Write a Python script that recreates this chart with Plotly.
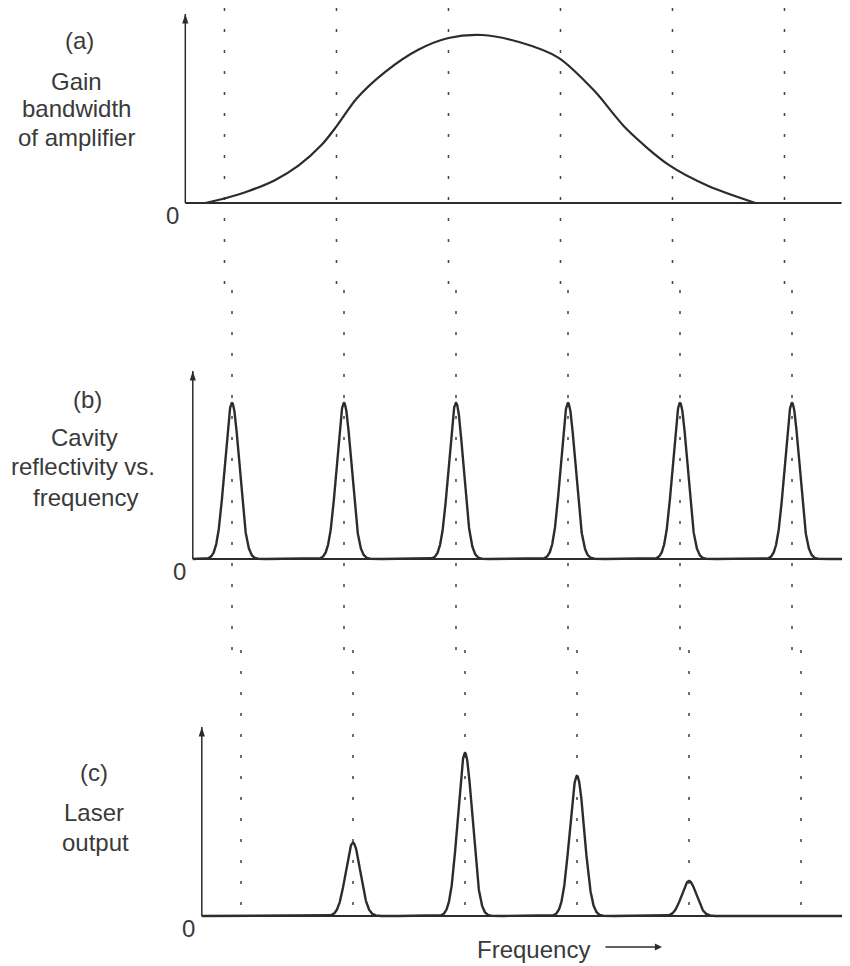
import numpy as np
import plotly.graph_objects as go

# page is shown in an 850x966 window; the html body has an 8px margin
PAGE_W, PAGE_H, BODY_MARGIN = 850, 966, 8
W, H = PAGE_W - BODY_MARGIN, PAGE_H - BODY_MARGIN

# ---------------- data ----------------
# frequency is expressed in units of the cavity mode spacing
mode_index = [0, 1, 2, 3, 4, 5]

gain_freq = [-0.17, 0.0, 0.21, 0.45, 0.66, 0.87, 1.0, 1.18, 1.43, 1.73, 2.0,
             2.30, 2.63, 2.98, 3.30, 3.59, 3.97, 4.32, 4.74]
gain_value = [0.0, 0.027, 0.070, 0.136, 0.222, 0.348, 0.456, 0.622, 0.778, 0.912, 0.982,
              1.0, 0.958, 0.865, 0.669, 0.44, 0.225, 0.101, 0.0]

reflectivity_peak = [1.0, 1.0, 1.0, 1.0, 1.0, 1.0]

laser_modes = [1, 2, 3, 4]
laser_output = [0.45, 1.0, 0.86, 0.215]

mode_sigma = 0.065  # width (std. dev.) of each resonance, in mode spacings

panel_tags = ["(a)", "(b)", "(c)"]
panel_titles = [["Gain", "bandwidth", "of amplifier"],
                ["Cavity", "reflectivity vs.", "frequency"],
                ["Laser", "output"]]
zero_label = "0"
x_title = "Frequency"

# ---------------- layout / styling ----------------
FONT = "Liberation Sans, Arial, Helvetica, sans-serif"
TXT = "#3a3a3a"
INK = "#2c2c2c"
PX_PER_MODE = 112.0
F_AXIS = -0.35
F_LO = -1.9


def fx(px):  # window pixel -> figure pixel (x)
    return px - BODY_MARGIN


def fy(py):  # window pixel -> figure pixel (y)
    return py - BODY_MARGIN


def paper(px, py):
    return fx(px) / W, 1 - fy(py) / H


# panel geometry in window pixels
panels = [
    dict(x0=224.5, base=203, scale=168, band=(8, 290), arrow=1.125, base_end=5.51, dots_from_zero=False),
    dict(x0=232.0, base=559, scale=156, band=(290, 650), arrow=1.205, base_end=None, dots_from_zero=False),
    dict(x0=241.0, base=916, scale=163, band=(650, 966), arrow=1.16, base_end=None, dots_from_zero=True),
]
label_pos = [
    [(79, 41), (76, 81), (76, 108), (76, 137)],
    [(87, 399), (84, 437), (83, 467), (85, 497)],
    [(94, 772), (94, 812), (95, 842)],
]

fig = go.Figure()
layout = dict(width=W, height=H, margin=dict(l=0, r=0, t=0, b=0),
              paper_bgcolor="white", plot_bgcolor="white", showlegend=False,
              annotations=[])

for i, p in enumerate(panels):
    n = "" if i == 0 else str(i + 1)
    x0 = fx(p["x0"])
    f_hi = (W - x0) / PX_PER_MODE - 0.002
    xd = [(x0 + PX_PER_MODE * F_LO) / W, (x0 + PX_PER_MODE * f_hi) / W]
    top, bot = fy(p["band"][0]), fy(p["band"][1])
    base = fy(p["base"])
    yd = [max(0.0, 1 - bot / H), min(1.0, 1 - top / H)]
    yr = [(base - bot) / p["scale"], (base - top) / p["scale"]]
    layout["xaxis" + n] = dict(domain=xd, range=[F_LO, f_hi], visible=False,
                               anchor="y" + n, fixedrange=True)
    layout["yaxis" + n] = dict(domain=yd, range=yr, visible=False,
                               anchor="x" + n, fixedrange=True)
    xa, ya = "x" + n, "y" + n

    # dotted mode markers
    dx, dy = [], []
    y_start = 0 if p["dots_from_zero"] else yr[0]
    for k in mode_index:
        dx += [k, k, None]
        dy += [yr[1], y_start, None]
    fig.add_trace(go.Scatter(x=dx, y=dy, mode="lines", xaxis=xa, yaxis=ya,
                             line=dict(color="#4a4a4a", width=1.6, dash="3px,18px"),
                             hoverinfo="skip"))

    # baseline (frequency axis)
    end = p["base_end"] if p["base_end"] is not None else f_hi
    fig.add_trace(go.Scatter(x=[F_AXIS, end], y=[0, 0], mode="lines", xaxis=xa, yaxis=ya,
                             line=dict(color=INK, width=2), hoverinfo="skip"))
    # vertical axis with arrow
    fig.add_trace(go.Scatter(x=[F_AXIS, F_AXIS], y=[0, p["arrow"]], mode="lines",
                             xaxis=xa, yaxis=ya, line=dict(color=INK, width=1.5),
                             hoverinfo="skip"))
    fig.add_trace(go.Scatter(x=[F_AXIS], y=[p["arrow"]], mode="markers", xaxis=xa, yaxis=ya,
                             marker=dict(symbol="arrow", angle=0, size=10, color=INK,
                                         line=dict(width=0)),
                             cliponaxis=False, hoverinfo="skip"))

    # curves
    if i == 0:
        fig.add_trace(go.Scatter(x=gain_freq, y=gain_value, mode="lines", xaxis=xa, yaxis=ya,
                                 line=dict(color=INK, width=2.2, shape="spline", smoothing=0.8),
                                 hoverinfo="skip"))
    else:
        centers = mode_index if i == 1 else laser_modes
        heights = reflectivity_peak if i == 1 else laser_output
        fg = np.linspace(F_AXIS, f_hi, 3000)
        yv = np.zeros_like(fg)
        for c, h in zip(centers, heights):
            yv += h * np.exp(-0.5 * ((fg - c) / mode_sigma) ** 2)
        fig.add_trace(go.Scatter(x=fg, y=yv, mode="lines", xaxis=xa, yaxis=ya,
                                 line=dict(color=INK, width=2.4), hoverinfo="skip"))

    # "0" label at origin
    layout["annotations"].append(dict(text=zero_label, x=F_AXIS, y=0, xref=xa, yref=ya,
                                      showarrow=False, xanchor="center", yanchor="middle",
                                      xshift=-13, yshift=-12,
                                      font=dict(family=FONT, size=24, color=TXT)))
    # panel texts
    lines = [panel_tags[i]] + panel_titles[i]
    for t, (px, py) in zip(lines, label_pos[i]):
        ax_, ay_ = paper(px, py)
        layout["annotations"].append(dict(text=t, x=ax_, y=ay_, xref="paper",
                                          yref="paper", showarrow=False, xanchor="center",
                                          yanchor="middle",
                                          font=dict(family=FONT, size=24, color=TXT)))

# x-axis title with arrow
tx, ty = paper(533, 949)
layout["annotations"].append(dict(text=x_title, x=tx, y=ty, xref="paper",
                                  yref="paper", showarrow=False, xanchor="center",
                                  yanchor="middle", font=dict(family=FONT, size=24, color=TXT)))
hx, hy = paper(662, 947)
layout["annotations"].append(dict(text="", x=hx, y=hy, xref="paper", yref="paper",
                                  showarrow=True, ax=-58, ay=0, arrowhead=2, arrowsize=1.1,
                                  arrowwidth=1.3, arrowcolor=INK))

fig.update_layout(**layout)
fig.write_html("out.html")
